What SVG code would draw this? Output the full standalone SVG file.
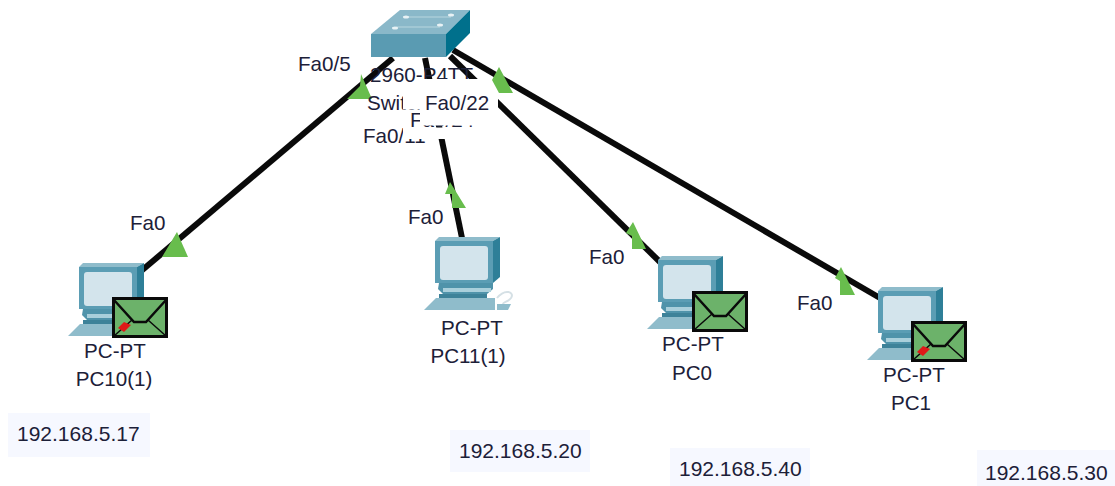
<svg xmlns="http://www.w3.org/2000/svg" width="1115" height="486" viewBox="0 0 1115 486">
<style>
text{font-family:"Liberation Sans",Arial,sans-serif;font-size:20.600px;fill:#1c2038}
.ip{font-size:21px}
.link{stroke:#0a0a0a;stroke-width:6;fill:none}
.tri{fill:#68bd4d}
.ipbox{fill:#f6f8ff}
.cover{fill:#fff}
.mid{text-anchor:middle}
.red{fill:#e01818}
</style>
<defs>
<g id="pc">
<path d="M0 2L4-2H65L58 2Z" fill="#8fbccb"/>
<path d="M58 2L65-2V38L58 44Z" fill="#2e7f98"/>
<rect x="0" y="2" width="58" height="42" fill="#5b9db4"/>
<rect x="5" y="7" width="48" height="34" rx="3" fill="#d3e4ec"/>
<path d="M4 44H58V50L52 55H8L3 50Z" fill="#4f93aa"/>
<path d="M8 49H56V53H8Z" fill="#a9cfdb"/>
<path d="M4 55H52V59H4Z" fill="#3d8299"/>
<path d="M-11 71L1 59H60L60 71Z" fill="#8fbccb"/>
</g>
<g id="mail">
<rect x="1.500" y="1.500" width="53" height="38" fill="#6cb26a" stroke="#0a0a0a" stroke-width="3"/>
<path d="M2 3L22 25H34L54 3" fill="none" stroke="#0a0a0a" stroke-width="2.500"/>
<path d="M20 23L2 39M36 23L54 39" fill="none" stroke="#0a0a0a" stroke-width="1.500"/>
</g>
</defs>
<rect width="1115" height="486" fill="#fff"/>
<g id="connectors">
<path class="link" d="M393 58L140 272"/>
<path class="link" d="M425 58L462 238"/>
<path class="link" d="M450 56L660 262"/>
<path class="link" d="M453 50L880 298"/>
<polygon class="tri" points="361,74 372,99 347,99 360,86"/>
<polygon class="tri" points="177,232 188,257 162,257"/>
<polygon class="tri" points="450,182 466,208 452,208 452,194 445,194"/>
<polygon class="tri" points="633,222 646,249 632,249 632,236 626,233"/>
<polygon class="tri" points="841,267 855,295 840,295 840,281 835,278"/>
</g>
<g id="switch">
<path d="M371 34L400 10H470L446 34Z" fill="#8ab8c9"/>
<path d="M446 34L470 10V33L446 57Z" fill="#00708c"/>
<rect x="371" y="34" width="75" height="23" fill="#5a9bb2"/>
<path d="M407 17H451M396 27H440" stroke="#a9cbd7" stroke-width="1.500" fill="none"/>
<g fill="#e8f2f5"><ellipse cx="406" cy="17" rx="3" ry="1.500"/><ellipse cx="451" cy="15" rx="3" ry="1.500"/><ellipse cx="395" cy="28" rx="3" ry="1.500"/><ellipse cx="440" cy="25" rx="3" ry="1.500"/></g>
<text x="370" y="82">2960-P4TT</text>
<text x="367" y="110">Switch</text>
<text x="363" y="143">Fa0/11</text>
<text x="410" y="127">Fa0/24</text>
<rect class="cover" x="403" y="84" width="20" height="25.500"/>
<rect class="cover" x="420" y="79" width="78" height="46.500"/>
<rect class="cover" x="403" y="127.500" width="95" height="11.500"/>
<polygon class="tri" points="499,67 513,93 499,93 492,80"/>
<text x="425" y="110">Fa0/22</text>
</g>
<g id="label-fa05"><text x="298" y="71">Fa0/5</text></g>
<g id="pc10">
<use href="#pc" x="79" y="265"/><use href="#mail" x="112" y="297"/>
<path class="red" d="M118 328L124 322L131 325L124 332Z"/>
<text x="130" y="230">Fa0</text>
<text class="mid" x="115" y="358">PC-PT</text><text class="mid" x="114" y="386">PC10(1)</text>
</g>
<g id="pc11">
<use href="#pc" x="435" y="239"/>
<path d="M497 298C505 288 515 292 511 298C508 302 503 302 503 304" fill="none" stroke="#d5e0e5" stroke-width="2"/>
<path d="M497 304H511L508 310H497Z" fill="#8fbccb"/>
<text x="408" y="224">Fa0</text>
<text class="mid" x="472" y="335">PC-PT</text><text class="mid" x="468" y="363">PC11(1)</text>
</g>
<g id="pc0">
<use href="#pc" x="658" y="258"/><use href="#mail" x="692" y="291"/>
<text x="589" y="264">Fa0</text>
<text class="mid" x="693" y="351">PC-PT</text><text class="mid" x="692" y="380">PC0</text>
</g>
<g id="pc1">
<use href="#pc" x="878" y="289"/><use href="#mail" x="911" y="321"/>
<path class="red" d="M917 352L923 346L930 349L923 356Z"/>
<text x="797" y="310">Fa0</text>
<text class="mid" x="914" y="382">PC-PT</text><text class="mid" x="911" y="410">PC1</text>
</g>
<g id="ip-labels">
<rect class="ipbox" x="8" y="413" width="142" height="44"/><text class="ip" x="17" y="441">192.168.5.17</text>
<rect class="ipbox" x="450" y="430" width="140" height="42"/><text class="ip" x="459" y="458">192.168.5.20</text>
<rect class="ipbox" x="670" y="448" width="140" height="38"/><text class="ip" x="679" y="476">192.168.5.40</text>
<rect class="ipbox" x="977" y="450" width="138" height="36"/><text class="ip" x="985" y="480">192.168.5.30</text>
</g>
</svg>
